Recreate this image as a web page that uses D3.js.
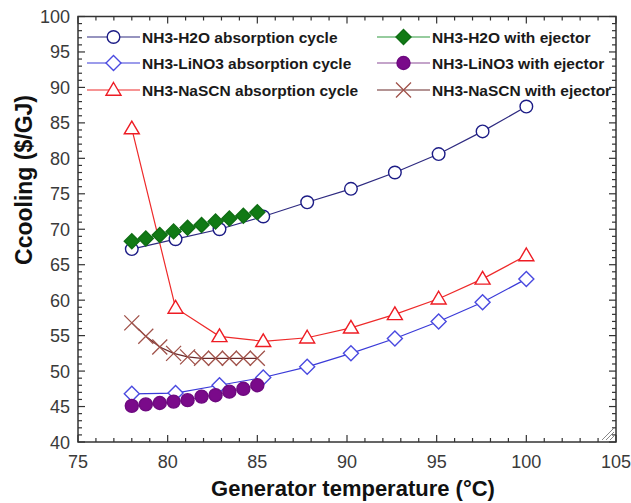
<!DOCTYPE html>
<html><head><meta charset="utf-8">
<script src="https://cdn.jsdelivr.net/npm/d3@7"></script>
<style>body{margin:0;background:#fff}svg{display:block}</style>
</head><body>
<script>
const xAbs = [78, 80.44, 82.89, 85.33, 87.78, 90.22, 92.67, 95.11, 97.56, 100];
const xEj = [78, 78.78, 79.56, 80.33, 81.11, 81.89, 82.67, 83.44, 84.22, 85];
const h2oAbs = [67.2, 68.6, 70.0, 71.8, 73.8, 75.7, 78.0, 80.6, 83.8, 87.3];
const lino3Abs = [46.8, 46.9, 48.0, 49.1, 50.6, 52.5, 54.6, 57.0, 59.7, 63.0];
const nascnAbs = [84.2, 58.9, 54.9, 54.2, 54.7, 56.1, 58.0, 60.2, 63.0, 66.3];
const h2oEj = [68.3, 68.7, 69.2, 69.7, 70.2, 70.6, 71.1, 71.5, 71.9, 72.4];
const lino3Ej = [45.1, 45.3, 45.5, 45.7, 45.9, 46.4, 46.6, 47.1, 47.5, 48.0];
const nascnEj = [56.8, 54.9, 53.4, 52.5, 52.0, 51.8, 51.8, 51.8, 51.8, 51.8];
const xTicks = [75, 80, 85, 90, 95, 100, 105];
const yTicks = [40, 45, 50, 55, 60, 65, 70, 75, 80, 85, 90, 95, 100];
const seriesNames = ["NH3-H2O absorption cycle", "NH3-LiNO3 absorption cycle", "NH3-NaSCN absorption cycle",
  "NH3-H2O with ejector", "NH3-LiNO3 with ejector", "NH3-NaSCN with ejector"];

const W = 631, H = 503;
const L = 78, R = 616, T = 16.5, B = 442;
const svg = d3.select("body").append("svg").attr("width", W).attr("height", H)
  .style("font-family", "'Liberation Sans', Arial, sans-serif");
const x = d3.scaleLinear().domain([75, 105]).range([L, R]);
const y = d3.scaleLinear().domain([40, 100]).range([B, T]);

const series = [
  {name: seriesNames[0], xs: xAbs, ys: h2oAbs, line: "#2e2a80", mark: "circle", stroke: "#1c1c86", fill: "#fff", size: 6.3},
  {name: seriesNames[1], xs: xAbs, ys: lino3Abs, line: "#3a3ad8", mark: "diamond", stroke: "#4a4ae0", fill: "#fff", size: 7.5},
  {name: seriesNames[2], xs: xAbs, ys: nascnAbs, line: "#ee2a2a", mark: "triangle", stroke: "#ee1c24", fill: "#fff", size: 7.5},
  {name: seriesNames[3], xs: xEj, ys: h2oEj, line: "#2e9a3e", mark: "diamond", stroke: "#0f6e14", fill: "#117a15", size: 7.5},
  {name: seriesNames[4], xs: xEj, ys: lino3Ej, line: "#8a4a96", mark: "circle", stroke: "#6e0a80", fill: "#7a0a8a", size: 6.5},
  {name: seriesNames[5], xs: xEj, ys: nascnEj, line: "#6a2a2a", mark: "cross", stroke: "#a0524a", fill: "none", size: 7.5}
];

function drawMarker(g, type, cx, cy, s, stroke, fill) {
  if (type === "circle") {
    g.append("circle").attr("cx", cx).attr("cy", cy).attr("r", s)
      .attr("fill", fill).attr("stroke", stroke).attr("stroke-width", 1.4);
  } else if (type === "diamond") {
    g.append("path").attr("d", `M${cx},${cy - s}L${cx + s},${cy}L${cx},${cy + s}L${cx - s},${cy}Z`)
      .attr("fill", fill).attr("stroke", stroke).attr("stroke-width", 1.4);
  } else if (type === "triangle") {
    g.append("path").attr("d", `M${cx},${cy - s * 1.0}L${cx + s},${cy + s * 0.7}L${cx - s},${cy + s * 0.7}Z`)
      .attr("fill", fill).attr("stroke", stroke).attr("stroke-width", 1.4);
  } else if (type === "cross") {
    g.append("path").attr("d", `M${cx - s},${cy - s}L${cx + s},${cy + s}M${cx - s},${cy + s}L${cx + s},${cy - s}`)
      .attr("fill", "none").attr("stroke", stroke).attr("stroke-width", 1.3);
  }
}

// frame
svg.append("rect").attr("x", L).attr("y", T).attr("width", R - L).attr("height", B - T)
  .attr("fill", "none").attr("stroke", "#333").attr("stroke-width", 1.5);

// ticks
const tg = svg.append("g").attr("stroke", "#333").attr("stroke-width", 1.2);
d3.range(75, 106, 1).forEach(v => {
  const major = v % 5 === 0;
  const len = major ? 7 : 4;
  tg.append("line").attr("x1", x(v)).attr("x2", x(v)).attr("y1", B).attr("y2", B - len);
  tg.append("line").attr("x1", x(v)).attr("x2", x(v)).attr("y1", T).attr("y2", T + len);
});
d3.range(40, 101, 1).forEach(v => {
  const major = v % 5 === 0;
  const len = major ? 7 : 4;
  tg.append("line").attr("y1", y(v)).attr("y2", y(v)).attr("x1", L).attr("x2", L + len);
  tg.append("line").attr("y1", y(v)).attr("y2", y(v)).attr("x1", R).attr("x2", R - len);
});

// tick labels
svg.append("g").selectAll("text").data(xTicks).join("text")
  .attr("x", d => x(d)).attr("y", 468).attr("text-anchor", "middle")
  .attr("font-size", 18).attr("fill", "#3a3a3a").text(d => d);
svg.append("g").selectAll("text").data(yTicks).join("text")
  .attr("x", 70).attr("y", d => y(d) + 6.5).attr("text-anchor", "end")
  .attr("font-size", 18).attr("fill", "#3a3a3a").text(d => d);

// axis titles
svg.append("text").attr("x", 353).attr("y", 496).attr("text-anchor", "middle")
  .attr("font-size", 22).attr("font-weight", "bold").attr("fill", "#111")
  .text("Generator temperature (°C)");
svg.append("text").attr("transform", "translate(32,180) rotate(-90)")
  .attr("text-anchor", "middle").attr("font-weight", "bold").attr("fill", "#111").attr("font-size", 23)
  .text("Ccooling ($/GJ)");

// series
const lineGen = d3.line();
series.forEach(s => {
  const pts = s.xs.map((v, i) => [x(v), y(s.ys[i])]);
  svg.append("path").attr("d", lineGen(pts)).attr("fill", "none")
    .attr("stroke", s.line).attr("stroke-width", 1.2);
});
series.forEach(s => {
  const g = svg.append("g");
  s.xs.forEach((v, i) => drawMarker(g, s.mark, x(v), y(s.ys[i]), s.size, s.stroke, s.fill));
});

// legend
const legRows = [37, 63, 90];
series.forEach((s, i) => {
  const col = i < 3 ? 0 : 1;
  const row = i % 3;
  const x0 = col === 0 ? 87 : 377;
  const x1 = col === 0 ? 140 : 430;
  const cy = legRows[row];
  const g = svg.append("g");
  g.append("line").attr("x1", x0).attr("x2", x1).attr("y1", cy).attr("y2", cy)
    .attr("stroke", s.line).attr("stroke-width", 1.2);
  drawMarker(g, s.mark, (x0 + x1) / 2, cy, s.size, s.stroke, s.fill);
  g.append("text").attr("x", x1 + 2).attr("y", cy + 6).attr("font-size", 15.5)
    .attr("font-weight", "bold").attr("fill", "#1a1a1a").text(s.name);
});

// resize grip
const grip = svg.append("g").attr("stroke", "#888").attr("stroke-width", 1);
[4, 8, 12].forEach(d => {
  grip.append("line").attr("x1", R - 2 - d).attr("y1", B - 2).attr("x2", R - 2).attr("y2", B - 2 - d);
});
</script>
</body></html>
